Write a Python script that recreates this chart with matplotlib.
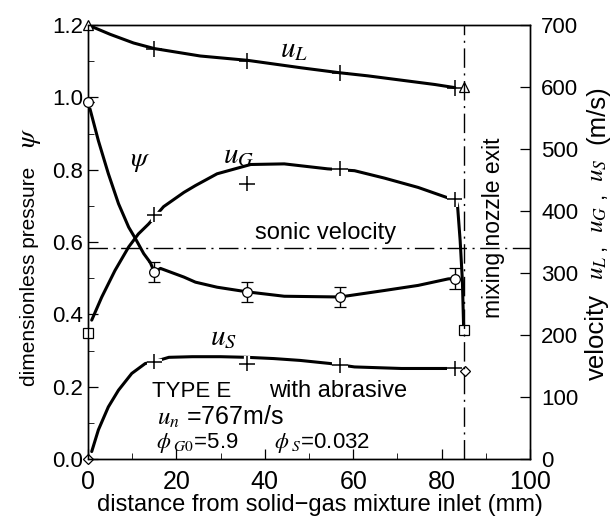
import matplotlib
matplotlib.use("Agg")
import matplotlib.pyplot as plt
import matplotlib.patheffects as pe
from matplotlib import font_manager

plt.rcParams['font.family'] = ['Liberation Sans', 'DejaVu Sans']
plt.rcParams['mathtext.fontset'] = 'stix'

# ---- data ----
# u_L (m/s)
uL_curve_x = [0, 5, 10.3, 15, 25.4, 36.1, 48.2, 56.9, 63.3, 70.9, 78.5, 83]
uL_curve_y = [700, 685, 671, 662, 650, 643, 631, 623, 618, 611, 604, 599]
uL_mark_x = [15, 36, 57, 83]
uL_mark_y = [662, 642, 623, 599]
uL_end_x = [0, 85]
uL_end_y = [700, 600]

# u_G (m/s)
uG_curve_x = [0.84, 3.1, 6.1, 9.2, 11.4, 13.7, 17.1, 21.7, 24.3, 29.2, 36.8, 44.4,
              54.2, 60.3, 67.1, 74.7, 81.5, 83.2, 83.6, 84.2, 84.7, 85]
uG_curve_y = [224, 261, 304, 342, 363, 379, 407, 430, 441, 460, 475, 476,
              468, 465, 453, 438, 421, 419, 409, 352, 288, 208]
uG_mark_x = [15, 36, 57, 83]
uG_mark_y = [394, 444, 468, 419]
uG_end_x = [0, 85]
uG_end_y = [204, 208]

# u_S (m/s)
uS_curve_x = [0.84, 2.35, 4.6, 6.9, 9.9, 12.95, 15, 18.3, 23.6, 30, 36, 42, 48, 54.8,
              60.3, 70.9, 81.5, 83]
uS_curve_y = [12, 47, 84, 111, 138, 154, 157, 164, 165, 165, 164, 162, 159, 154,
              148.5, 146, 146, 146]
uS_mark_x = [15, 36, 57, 83]
uS_mark_y = [157, 154, 151, 146]
uS_end_x = [0, 85.3]
uS_end_y = [0, 142]

# psi (dimensionless pressure)
psi_curve_x = [0.45, 2.35, 4.6, 6.9, 9.2, 10.7, 12.6, 14.1, 15, 16.4, 21.7, 24.3, 29.2,
               36.1, 44.4, 57, 67.1, 74.7, 81.5, 83.2]
psi_curve_y = [0.968, 0.88, 0.789, 0.706, 0.641, 0.61, 0.568, 0.543, 0.517, 0.527, 0.503,
               0.489, 0.475, 0.462, 0.45, 0.448, 0.466, 0.48, 0.498, 0.499]
psi_mark_x = [0, 15, 36, 57, 83]
psi_mark_y = [0.986, 0.517, 0.462, 0.448, 0.499]
psi_err = [0.0, 0.028, 0.028, 0.028, 0.028]

sonic_velocity = 340
exit_x = 85

fig = plt.figure(figsize=(6.16, 5.21), dpi=100)
ax = fig.add_axes([88/616, 1-459/521, 442/616, 434/521])
ax2 = ax.twinx()
ax.set_zorder(2)
ax.patch.set_visible(False)

lw = 2.2
halo = [pe.withStroke(linewidth=4.5, foreground='white')]
# velocity curves
ax2.plot(uL_curve_x, uL_curve_y, color='black', lw=lw, solid_capstyle='round', solid_joinstyle='round')
ax2.plot(uG_curve_x, uG_curve_y, color='black', lw=lw, solid_capstyle='round', solid_joinstyle='round')
ax2.plot(uS_curve_x, uS_curve_y, color='black', lw=lw, solid_capstyle='round', solid_joinstyle='round')
ax2.plot(uL_mark_x, uL_mark_y, ls='none', marker='+', ms=11, mew=1.1, color='black')
ax2.plot(uG_mark_x, uG_mark_y, ls='none', marker='+', ms=11, mew=1.1, color='black', path_effects=halo)
ax2.plot(uS_mark_x, uS_mark_y, ls='none', marker='+', ms=11, mew=1.1, color='black', path_effects=halo)
ax2.plot(uL_end_x, uL_end_y, ls='none', marker='^', ms=7, mfc='white', mec='black', mew=0.9, zorder=5, clip_on=False)
ax2.plot(uG_end_x, uG_end_y, ls='none', marker='s', ms=7, mfc='white', mec='black', mew=0.9, zorder=5, clip_on=False)
ax2.plot(uS_end_x, uS_end_y, ls='none', marker='D', ms=5.5, mfc='white', mec='black', mew=0.9, zorder=5, clip_on=False)
ax2.axhline(sonic_velocity, color='black', lw=1.0, dashes=[14, 4, 1.5, 4])

# psi curve
ax.plot(psi_curve_x, psi_curve_y, color='black', lw=lw, solid_capstyle='round', solid_joinstyle='round')
eb = ax.errorbar(psi_mark_x, psi_mark_y, yerr=psi_err, ls='none', marker='o', ms=7,
                 mfc='white', mec='black', mew=0.9, ecolor='black', elinewidth=1.0, capsize=4, zorder=5)
eb.lines[0].set_clip_on(False)
ax.axvline(exit_x, color='black', lw=1.0, dashes=[14, 4, 1.5, 4])

# axes
ax.set_xlim(0, 100)
ax.set_ylim(0, 1.2)
ax2.set_ylim(0, 700)
ax.set_xticks([0, 20, 40, 60, 80, 100])
ax.set_xticks([10, 30, 50, 70, 90], minor=True)
ax.set_yticks([0.0, 0.2, 0.4, 0.6, 0.8, 1.0, 1.2])
ax.set_yticks([0.1, 0.3, 0.5, 0.7, 0.9, 1.1], minor=True)
ax.set_yticklabels(['0.0', '0.2', '0.4', '0.6', '0.8', '1.0', '1.2'])
ax2.set_yticks([0, 100, 200, 300, 400, 500, 600, 700])
ax.tick_params(axis='both', which='major', direction='in', length=7, width=0.9, labelsize=16)
ax.tick_params(axis='both', which='minor', direction='in', length=4, width=0.6)
ax.tick_params(axis='x', pad=8, labelsize=18)
ax2.tick_params(axis='y', direction='in', length=7, width=0.9, labelsize=16, pad=8)
names = {f.name for f in font_manager.fontManager.ttflist}
if 'Liberation Sans Narrow' in names:
    for t in ax.get_xticklabels():
        t.set_family('Liberation Sans Narrow')
        t.set_fontsize(20)
for a in (ax, ax2):
    for s in a.spines.values():
        s.set_linewidth(1.0)

# labels
lx = 30/616
fig.text(lx, 1-276/521, 'dimensionless pressure', rotation=90, ha='center', va='center', fontsize=15)
fig.text(lx, 1-138/521, r'$\psi$', rotation=90, ha='center', va='center', fontsize=20)
fig.text(320/616, 1-505/521, 'distance from solid\u2212gas mixture inlet (mm)', ha='center', va='center', fontsize=17)
# right axis label, built from pieces laid out along the axis
rx = 597/616
right_parts = [('velocity', 337, 18.5), (r'$u_L$', 268, 18), (',', 247, 16),
               (r'$u_G$', 219, 18), (',', 195, 16), (r'$u_S$', 170, 18), ('(m/s)', 115, 18.5)]
for txt, py, fs in right_parts:
    fig.text(rx, 1-py/521, txt, rotation=90, ha='center', va='center', fontsize=fs)

# annotations
ax.text(43.4, 1.11, r'$u_L$', fontsize=21)
ax.text(9.5, 0.81, r'$\psi$', fontsize=20)
ax.text(30.5, 0.817, r'$u_G$', fontsize=21)
ax.text(27.6, 0.315, r'$u_S$', fontsize=21)
ax.text(37.8, 0.607, 'sonic velocity', fontsize=17)
ax.text(91.7, 0.64, 'mixing nozzle exit', rotation=90, ha='center', va='center', fontsize=16.5)
ax.text(14.5, 0.171, 'TYPE E', fontsize=16)
ax.text(41, 0.171, 'with abrasive', fontsize=17)
ax.text(15.5, 0.094, r'$u_n$ =767m/s', fontsize=18)
ax.text(15.3, 0.03, r'$\phi_{\ G0}$=5.9', fontsize=16)
ax.text(42, 0.03, r'$\phi_{\ S}$=0.032', fontsize=16)

fig.savefig('out.png', dpi=100)
